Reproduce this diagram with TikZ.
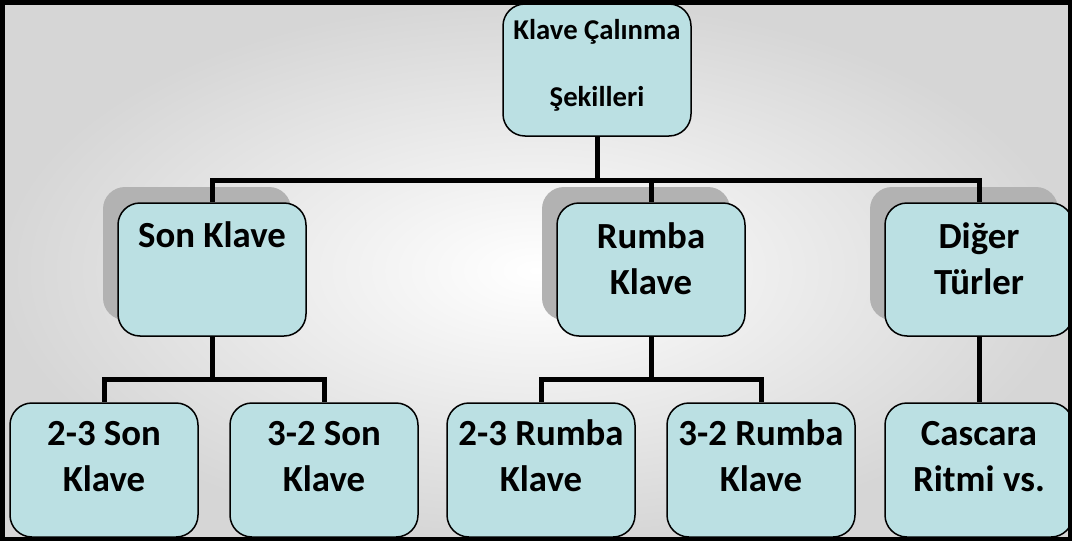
\documentclass[tikz,border=0pt]{standalone}
\usepackage{fontspec}
\setmainfont{Carlito}
\usetikzlibrary{shadows}

\definecolor{boxfill}{HTML}{BBE0E3}
% box text sits at the top of the box: height, first baseline, lines
\newcommand{\boxtext}[3]{\parbox[c][#1pt][t]{188pt}{\centering\rule{0pt}{#2pt}#3}}

\begin{document}
\begin{tikzpicture}[x=1pt,y=-1pt,
  box/.style={draw,line width=1.5pt,fill=boxfill,rounded corners=22pt,
    inner sep=0pt,font=\bfseries\fontsize{36.8}{46}\selectfont},
  shadowed/.style={general shadow={fill=black!30,shadow xshift=-15pt,shadow yshift=16pt}},
  link/.style={line width=5pt}]
\useasboundingbox (0,0) rectangle (1072,541);
\clip (0,0) rectangle (1072,541);
\shade[inner color=white,outer color=gray!32] (0,0) rectangle (1072,541);

% top
\node[box,font=\bfseries\fontsize{28.7}{67}\selectfont] (top) at (597,70)
    {\boxtext{132}{35}{Klave Çalınma\\Şekilleri}};

% second row
\node[box,shadowed] (son) at (212,269.5) {\boxtext{133}{44}{Son Klave}};
\node[box,shadowed] (rumba) at (651,269.5) {\boxtext{133}{45}{Rumba\\Klave}};
\node[box,shadowed] (dig) at (979,269.5) {\boxtext{133}{45}{Diğer\\Türler}};

% third row
\node[box] (sonA) at (104,470) {\boxtext{134}{42}{2-3 Son\\Klave}};
\node[box] (sonB) at (324,470) {\boxtext{134}{42}{3-2 Son\\Klave}};
\node[box] (rumA) at (541,470) {\boxtext{134}{42}{2-3 Rumba\\Klave}};
\node[box] (rumB) at (761,470) {\boxtext{134}{42}{3-2 Rumba\\Klave}};
\node[box] (cas) at (979,470) {\boxtext{134}{42}{Cascara\\Ritmi vs.}};

\coordinate (bus) at (597,180);
\draw[link] (top.south) -- (bus);
\draw[link] (son.north) |- (bus) -| (dig.north);
\draw[link] (rumba.north) -- (rumba.north |- bus);

\draw[link] (son.south) -- ++(0,43) -| (sonA.north);
\draw[link] (son.south) -- ++(0,43) -| (sonB.north);
\draw[link] (rumba.south) -- ++(0,43) -| (rumA.north);
\draw[link] (rumba.south) -- ++(0,43) -| (rumB.north);
\draw[link] (dig.south) -- (cas.north);

% frame
\draw[line width=9pt] (0,0) rectangle (1072,541);
\end{tikzpicture}
\end{document}
